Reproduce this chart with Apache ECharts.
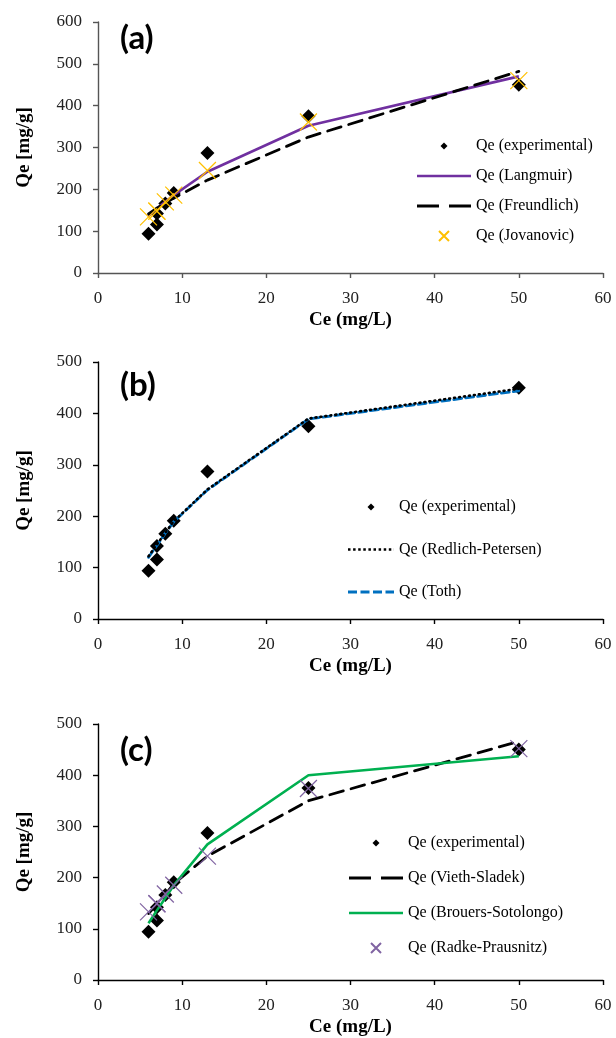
<!DOCTYPE html>
<html>
<head>
<meta charset="utf-8">
<script src="https://cdn.jsdelivr.net/npm/echarts@6/dist/echarts.min.js"></script>
<style>
  html, body { margin: 0; padding: 0; background: #fff; }
  #chart { width: 616px; height: 1038px; }
</style>
</head>
<body>
<div id="chart"></div>
<script>
// Equilibrium concentration (mg/L) and measured uptake (mg/g)
const ce = [6, 7, 7, 8, 9, 13, 25, 50];
const qeExperimental = [94, 116, 142, 166, 191, 287, 375, 450];

// (a) two-parameter models
const qeLangmuir = [136, 154, 154, 170, 186, 242, 352, 470];
const qeFreundlich = [141, 155, 155, 167, 179, 222, 325, 482];
const qeJovanovic = [134, 148, 148, 170, 186, 245, 361, 460];

// (b) three-parameter models
const qeRedlichPetersen = [122, 145, 145, 168, 190, 252, 390, 448];
const qeToth = [120, 143, 143, 167, 189, 251, 389, 444];

// (c) further models
const qeViethSladek = [130, 148, 148, 167, 188, 242, 350, 466];
const qeBrouersSotolongo = [111, 136, 136, 160, 185, 265, 400, 437];
const qeRadkePrausnitz = [133, 149, 149, 168, 185, 242, 374, 452];

const panelLetters = ['(a)', '(b)', '(c)'];
const yMax = [600, 500, 500];

const pairs = (ys) => ce.map((x, i) => [x, ys[i]]);
const CROSS = 'path://M0,0L10,10M10,0L0,10';
const serif = 'Liberation Serif';

const grids = [
  { left: 98, right: 13, top: 22, height: 251 },
  { left: 98, right: 13, top: 362, height: 257 },
  { left: 98, right: 13, top: 724, height: 261 }
];
const axisColor = ['#555', '#000', '#000'];

const xAxes = grids.map((g, i) => ({
  type: 'value', gridIndex: i, min: 0, max: 60, interval: 10,
  name: 'Ce (mg/L)', nameLocation: 'middle', nameGap: 38,
  nameTextStyle: { fontFamily: serif, fontWeight: 'bold', fontSize: 19, color: '#000' },
  axisLine: { show: true, lineStyle: { color: axisColor[i], width: 1.4 } },
  axisTick: { show: true, inside: false, length: 5, lineStyle: { color: axisColor[i], width: 1.4 } },
  axisLabel: { fontFamily: serif, fontSize: 17, color: '#222', margin: 17 },
  splitLine: { show: false }
}));

const yAxes = grids.map((g, i) => ({
  type: 'value', gridIndex: i, min: 0, max: yMax[i], interval: 100,
  name: 'Qe [mg/g]', nameLocation: 'middle', nameGap: 64, nameRotate: 90,
  nameTextStyle: { fontFamily: serif, fontWeight: 'bold', fontSize: 19, color: '#000' },
  axisLine: { show: true, lineStyle: { color: axisColor[i], width: 1.4 } },
  axisTick: { show: true, inside: false, length: 5, lineStyle: { color: axisColor[i], width: 1.4 } },
  axisLabel: { fontFamily: serif, fontSize: 17, color: '#222', margin: 16 },
  splitLine: { show: false }
}));

function experimental(gi) {
  return {
    name: 'Qe (experimental)', type: 'scatter', xAxisIndex: gi, yAxisIndex: gi,
    symbol: 'diamond', symbolSize: 14, itemStyle: { color: '#000', opacity: 1 },
    data: pairs(qeExperimental), z: 2
  };
}
function curve(gi, name, ys, color, width, dash, z) {
  return {
    name, type: 'line', xAxisIndex: gi, yAxisIndex: gi,
    symbol: 'none', showSymbol: false,
    lineStyle: { color, width, type: dash, cap: dash === 'solid' ? 'butt' : 'round' },
    itemStyle: { color },
    data: pairs(ys), z: z || 3
  };
}
function crosses(gi, name, ys, color) {
  return {
    name, type: 'scatter', xAxisIndex: gi, yAxisIndex: gi,
    symbol: CROSS, symbolSize: 17,
    itemStyle: { color: 'rgba(0,0,0,0)', borderColor: color, borderWidth: 1.2, opacity: 1 },
    data: pairs(ys), z: 5
  };
}

const series = [
  experimental(0),
  curve(0, 'Qe (Langmuir)', qeLangmuir, '#7030A0', 2.6, 'solid'),
  curve(0, 'Qe (Freundlich)', qeFreundlich, '#000', 2.8, [14, 8], 4),
  crosses(0, 'Qe (Jovanovic)', qeJovanovic, '#FFC000'),

  experimental(1),
  curve(1, 'Qe (Toth)', qeToth, '#0070C0', 2.8, [8, 4], 3),
  curve(1, 'Qe (Redlich-Petersen)', qeRedlichPetersen, '#000', 2.6, [1, 4], 4),

  experimental(2),
  curve(2, 'Qe (Vieth-Sladek)', qeViethSladek, '#000', 2.8, [14, 8], 3),
  curve(2, 'Qe (Brouers-Sotolongo)', qeBrouersSotolongo, '#00B050', 2.6, 'solid', 4),
  crosses(2, 'Qe (Radke-Prausnitz)', qeRadkePrausnitz, '#8064A2')
];

// Legend icons: each path spans the full icon box (w x 10) so nothing is stretched
function box(w) { return 'M0,0M' + w + ',10'; }
function diamondIcon(w) {
  const c = w / 2;
  return 'path://' + box(w) + 'M' + (c - 3.5) + ',5L' + c + ',1.5L' + (c + 3.5) + ',5L' + c + ',8.5Z';
}
function crossIcon(w) {
  const c = w / 2;
  return 'path://' + box(w) + 'M' + (c - 5) + ',0L' + (c + 5) + ',10M' + (c + 5) + ',0L' + (c - 5) + ',10';
}
function solidIcon(w) {
  return 'path://' + box(w) + 'M0,3.7h' + w + 'v2.6h-' + w + 'z';
}
function dashIcon(w, dash, gap, t) {
  let p = 'path://' + box(w);
  const y = 5 - t / 2;
  for (let x = 0; x < w; x += dash + gap) {
    const len = Math.min(dash, w - x);
    p += 'M' + x + ',' + y + 'h' + len + 'v' + t + 'h-' + len + 'z';
  }
  return p;
}

const legendText = { fontFamily: serif, fontSize: 16, color: '#000', lineHeight: 18 };
const legends = [
  { left: 416, top: 137, itemGap: 12, itemWidth: 54,
    data: [
      { name: 'Qe (experimental)', icon: diamondIcon(54) },
      { name: 'Qe (Langmuir)', icon: solidIcon(54) },
      { name: 'Qe (Freundlich)', icon: dashIcon(54, 22, 10, 3) },
      { name: 'Qe (Jovanovic)', icon: crossIcon(54) }
    ] },
  { left: 348, top: 498, itemGap: 24.5, itemWidth: 46,
    data: [
      { name: 'Qe (experimental)', icon: diamondIcon(46) },
      { name: 'Qe (Redlich-Petersen)', icon: dashIcon(46, 2.5, 2.6, 2.5) },
      { name: 'Qe (Toth)', icon: dashIcon(46, 9, 3.5, 2.8) }
    ] },
  { left: 348, top: 834, itemGap: 17, itemWidth: 54,
    data: [
      { name: 'Qe (experimental)', icon: diamondIcon(54) },
      { name: 'Qe (Vieth-Sladek)', icon: dashIcon(54, 22, 10, 3) },
      { name: 'Qe (Brouers-Sotolongo)', icon: solidIcon(54) },
      { name: 'Qe (Radke-Prausnitz)', icon: crossIcon(54) }
    ] }
].map(l => Object.assign({
  orient: 'vertical', itemHeight: 10, padding: 0, textStyle: legendText,
  selectedMode: false, symbolKeepAspect: false
}, l));

// Panel letters
const letterTop = [22, 369, 734];
const graphic = panelLetters.map((t, i) => ({
  type: 'text', left: 120, top: letterTop[i],
  style: { text: t, font: 'bold 33px Lato', fill: '#000' }
}));

const chart = echarts.init(document.getElementById('chart'), null, { renderer: 'canvas' });
chart.setOption({
  animation: false,
  backgroundColor: '#fff',
  grid: grids,
  xAxis: xAxes,
  yAxis: yAxes,
  legend: legends,
  graphic,
  series
});
</script>
</body>
</html>
